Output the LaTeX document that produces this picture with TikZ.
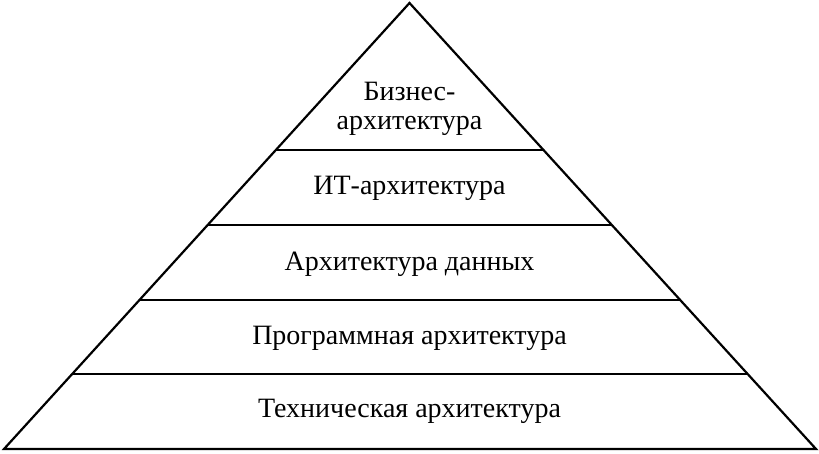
\documentclass[tikz,border=0pt]{standalone}
\usepackage{fontspec}
\setmainfont{Liberation Serif}
\usetikzlibrary{calc}
\begin{document}
\begin{tikzpicture}[x=1pt,y=-1pt,
  edge/.style={line width=2.2pt,line join=miter},
  lbl/.style={font=\fontsize{28}{29}\selectfont,align=center,inner sep=0pt}]
\useasboundingbox (0,0) rectangle (819,454);
\coordinate (A) at (409.5,3);
\coordinate (L) at (4,449);
\coordinate (R) at (816,449);
\draw[edge] (L) -- (A) -- (R) -- cycle;
\foreach \t/\n in {0.168/1,0.334/2,0.502/3,0.670/4}{
  \coordinate (l\n) at ($(L)!\t!(A)$);
  \coordinate (r\n) at ($(R)!\t!(A)$);
  \draw[edge] (l\n) -- (r\n);
}
\node[lbl] (biz) at (409.5,109) {Бизнес-\\архитектура};
\node[lbl] (it) at (409.5,188) {ИТ-архитектура};
\node[lbl] (data) at (409.5,264) {Архитектура данных};
\node[lbl] (prog) at (409.5,338) {Программная архитектура};
\node[lbl] (tech) at (409.5,411) {Техническая архитектура};
\end{tikzpicture}
\end{document}
